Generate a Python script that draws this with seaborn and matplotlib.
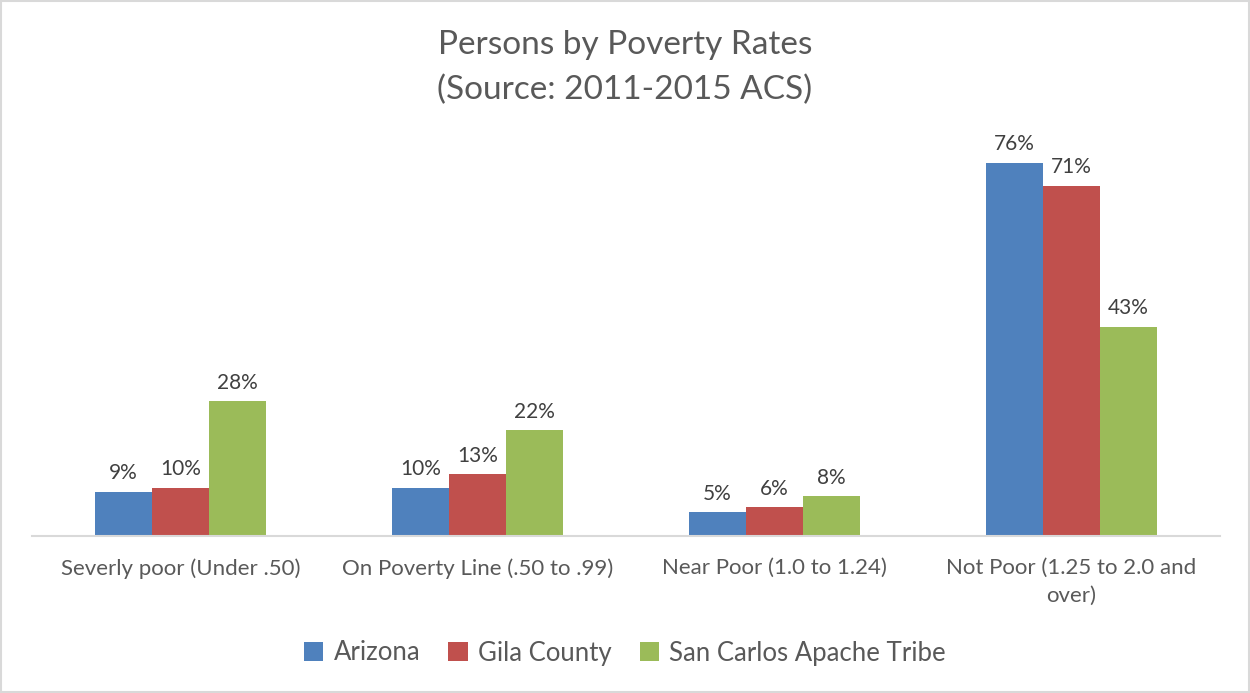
import matplotlib
matplotlib.use("Agg")
import matplotlib.pyplot as plt
import seaborn as sns
import pandas as pd
from matplotlib.patches import Rectangle

categories = ["Severly poor (Under .50)", "On Poverty Line (.50 to .99)",
              "Near Poor (1.0 to 1.24)", "Not Poor (1.25 to 2.0 and\nover)"]
series = ["Arizona", "Gila County", "San Carlos Apache Tribe"]
arizona = [9.0, 9.8, 4.9, 76.0]
gila = [9.8, 12.6, 5.9, 71.3]
san_carlos = [27.5, 21.5, 8.1, 42.6]
colors = ["#4F81BD", "#C0504D", "#9BBB59"]

rows = []
for name, vals in zip(series, [arizona, gila, san_carlos]):
    for c, v in zip(categories, vals):
        rows.append({"Category": c, "Series": name, "Value": v})
df = pd.DataFrame(rows)

sns.set_theme(style="white")
plt.rcParams["font.family"] = ["Lato", "DejaVu Sans"]
text_color = "#595959"

fig = plt.figure(figsize=(12.5, 6.93), dpi=100)
ax = fig.add_axes([0.0256, 0.2266, 0.9504, 0.567])

sns.barplot(data=df, x="Category", y="Value", hue="Series", order=categories,
            hue_order=series, palette=colors, width=0.576, gap=0,
            saturation=1, ax=ax, legend=True, linewidth=0)

for cont in ax.containers:
    ax.bar_label(cont, labels=[f"{v:.0f}%" for v in cont.datavalues],
                 padding=6, fontsize=15, color="#404040")

ax.set_ylim(0, 80)
ax.set_xlim(-0.5, 3.5)
ax.set_xlabel("")
ax.set_ylabel("")
ax.set_yticks([])
for s in ["top", "left", "right"]:
    ax.spines[s].set_visible(False)
ax.spines["bottom"].set_color("#D9D9D9")
ax.spines["bottom"].set_linewidth(1.5)
ax.tick_params(axis="x", length=0, pad=16, labelsize=16, labelcolor=text_color)
for t in ax.get_xticklabels():
    t.set_linespacing(1.45)

h, l = ax.get_legend_handles_labels()
ax.legend_.remove()
fig.legend(h, l, loc="center", bbox_to_anchor=(0.5, 1 - 653 / 693), ncol=3,
           frameon=False, fontsize=18.5, labelcolor=text_color,
           handlelength=0.75, handleheight=0.75, handletextpad=0.4,
           columnspacing=1.1)

fig.text(0.5, 1 - 45 / 693, "Persons by Poverty Rates", ha="center", va="center",
         fontsize=24, color=text_color)
fig.text(0.5, 1 - 90 / 693, "(Source: 2011-2015 ACS)", ha="center", va="center",
         fontsize=24, color=text_color)

fig.patches.append(Rectangle((0.001, 0.001), 0.998, 0.998, transform=fig.transFigure,
                             fill=False, edgecolor="#D9D9D9", linewidth=1.5))

fig.savefig("out.png", dpi=100)
